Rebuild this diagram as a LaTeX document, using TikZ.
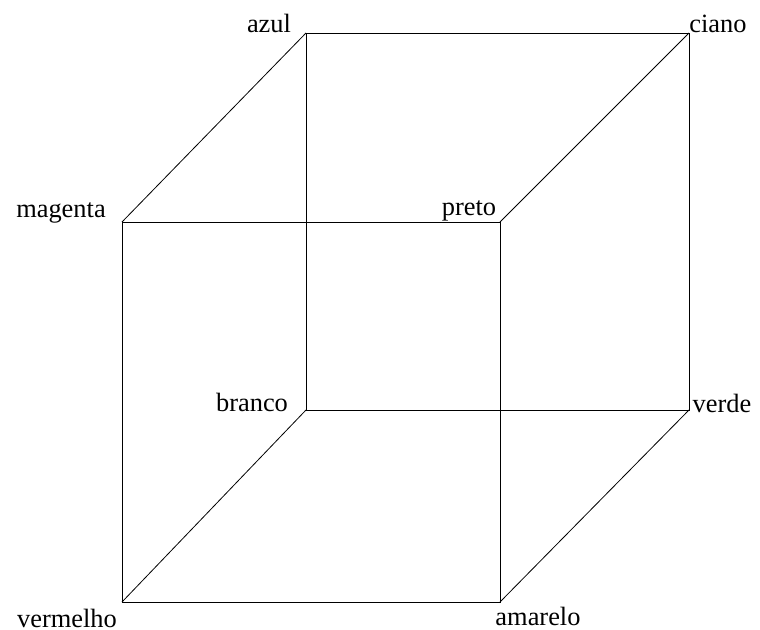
\documentclass[tikz,border=0pt]{standalone}
\usepackage{fontspec}
\setmainfont{Liberation Serif}
\usepackage{tikz}

\begin{document}
\begin{tikzpicture}[x=0.5pt, y=-0.5pt, lbl/.style={inner sep=0pt, font=\fontsize{13.2}{15}\selectfont}]
    \useasboundingbox (0,0) rectangle (760,630);
    % vertices of the cube
    \coordinate (azul) at (306,33);
    \coordinate (ciano) at (689,33);
    \coordinate (magenta) at (122,222);
    \coordinate (preto) at (500,222);
    \coordinate (branco) at (306,410);
    \coordinate (verde) at (689,410);
    \coordinate (vermelho) at (122,602);
    \coordinate (amarelo) at (500,602);
    % edges
    \draw (azul) -- (ciano) -- (verde) -- (branco) -- cycle;
    \draw (magenta) -- (preto) -- (amarelo) -- (vermelho) -- cycle;
    \draw (azul) -- (magenta);
    \draw (ciano) -- (preto);
    \draw (branco) -- (vermelho);
    \draw (verde) -- (amarelo);
    % labels
    \node[lbl] (lazul) at (269,23) {azul};
    \node[lbl] (lciano) at (718,24) {ciano};
    \node[lbl] (lmagenta) at (61,213) {magenta};
    \node[lbl] (lpreto) at (469,211) {preto};
    \node[lbl] (lbranco) at (252,402) {branco};
    \node[lbl] (lverde) at (722,403) {verde};
    \node[lbl] (lvermelho) at (67,618) {vermelho};
    \node[lbl] (lamarelo) at (538,616) {amarelo};
\end{tikzpicture}
\end{document}
